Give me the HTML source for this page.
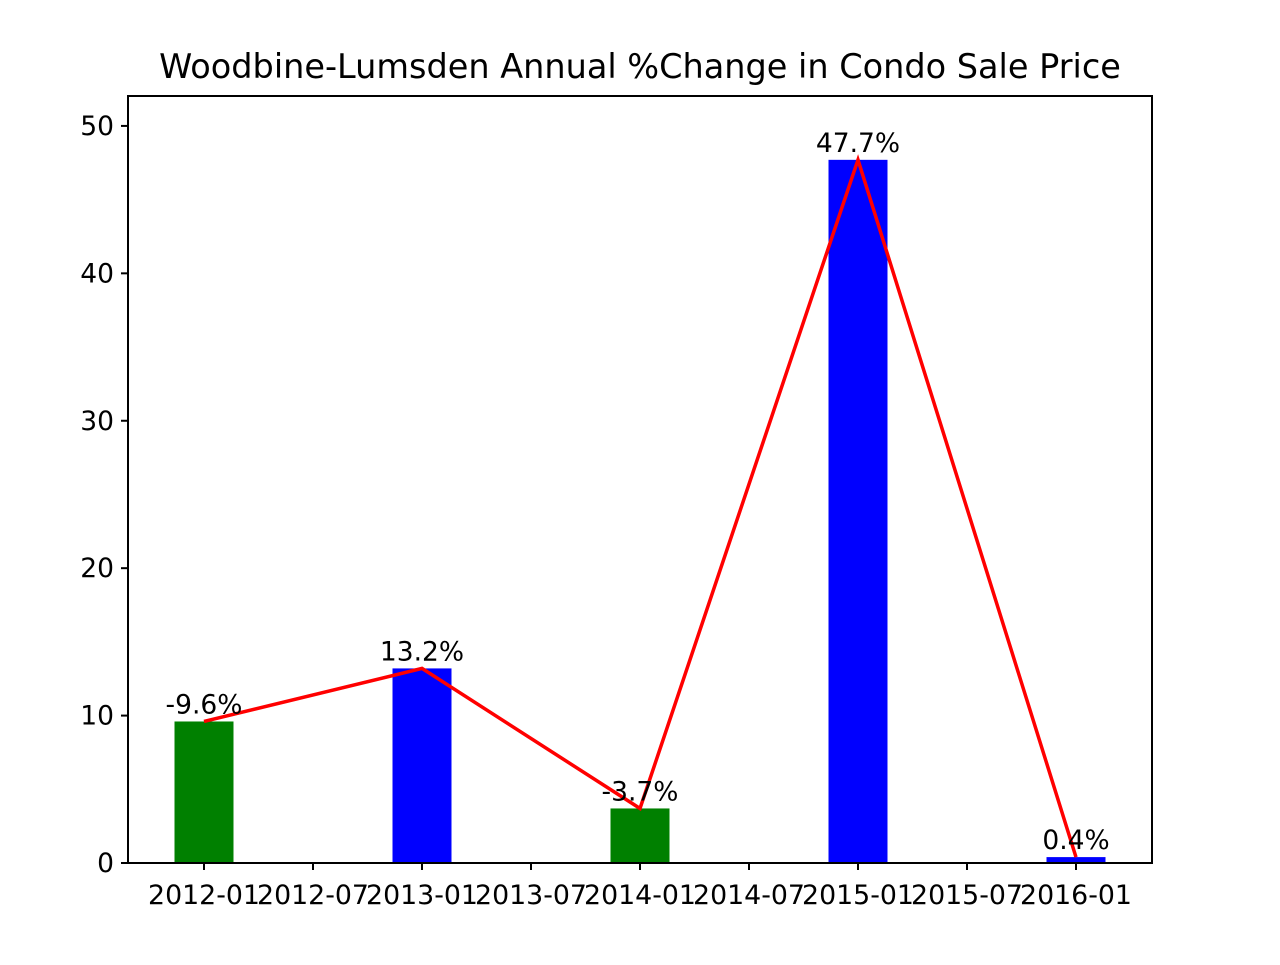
<!DOCTYPE html>
<html><head><meta charset="utf-8"><style>
body{margin:0;background:#fff}
svg text{font-family:"DejaVu Sans","Liberation Sans",sans-serif;fill:#000}
</style></head><body>
<svg id="chart" width="1280" height="960" viewBox="0 0 1280 960">
<rect width="1280" height="960" fill="#fff"/>
<text x="640" y="78" font-size="33.5" text-anchor="middle">Woodbine-Lumsden Annual %Change in Condo Sale Price</text>
<g id="plot"></g>
</svg>
<script>
const categories = [0, 12, 24, 36, 48]; // months since 2012-01
const changes = [-9.6, 13.2, -3.7, 47.7, 0.4];
const labels = ["-9.6%", "13.2%", "-3.7%", "47.7%", "0.4%"];
const yTicks = [0, 10, 20, 30, 40, 50];
const xTickMonths = [0, 6, 12, 18, 24, 30, 36, 42, 48];
const xTickLabels = ["2012-01","2012-07","2013-01","2013-07","2014-01","2014-07","2015-01","2015-07","2016-01"];

const L=128,R=1152,T=96,B=863;
const yMax=52.03;
function y(v){return B-(v/yMax)*(B-T);}
function x(m){return 204+m*218/12;}
const NS="http://www.w3.org/2000/svg";
const g=document.getElementById('plot');
function el(t,a){const e=document.createElementNS(NS,t);for(const k in a)e.setAttribute(k,a[k]);g.appendChild(e);return e;}

changes.forEach((v,i)=>{
  const h=Math.abs(v);
  const r=el('rect',{x:x(categories[i])-29.5,y:y(h),width:59,height:B-y(h),fill:v<0?'#008000':'#0000ff'});
  
  
});
const pts=changes.map((v,i)=>x(categories[i])+','+y(Math.abs(v))).join(' ');
const line=el('polyline',{points:pts,fill:'none',stroke:'#ff0000','stroke-width':3.5});


changes.forEach((v,i)=>{
  const t=el('text',{x:x(categories[i]),y:y(Math.abs(v))-8,'font-size':26.5,'text-anchor':'middle'});
  t.textContent=labels[i];
  
  
});
const frame=el('rect',{x:L,y:T,width:R-L,height:B-T,fill:'none',stroke:'#000','stroke-width':2});


yTicks.forEach(v=>{
  el('line',{x1:L-7,x2:L,y1:y(v),y2:y(v),stroke:'#000','stroke-width':2});
  const t=el('text',{x:L-14,y:y(v)+9,'font-size':26.5,'text-anchor':'end'});
  t.textContent=v;
  
  
});
xTickMonths.forEach((m,i)=>{
  el('line',{x1:x(m),x2:x(m),y1:B,y2:B+7,stroke:'#000','stroke-width':2});
  const t=el('text',{x:x(m),y:B+41,'font-size':26.8,'text-anchor':'middle'});
  t.textContent=xTickLabels[i];
  
  
});
</script>
</body></html>
